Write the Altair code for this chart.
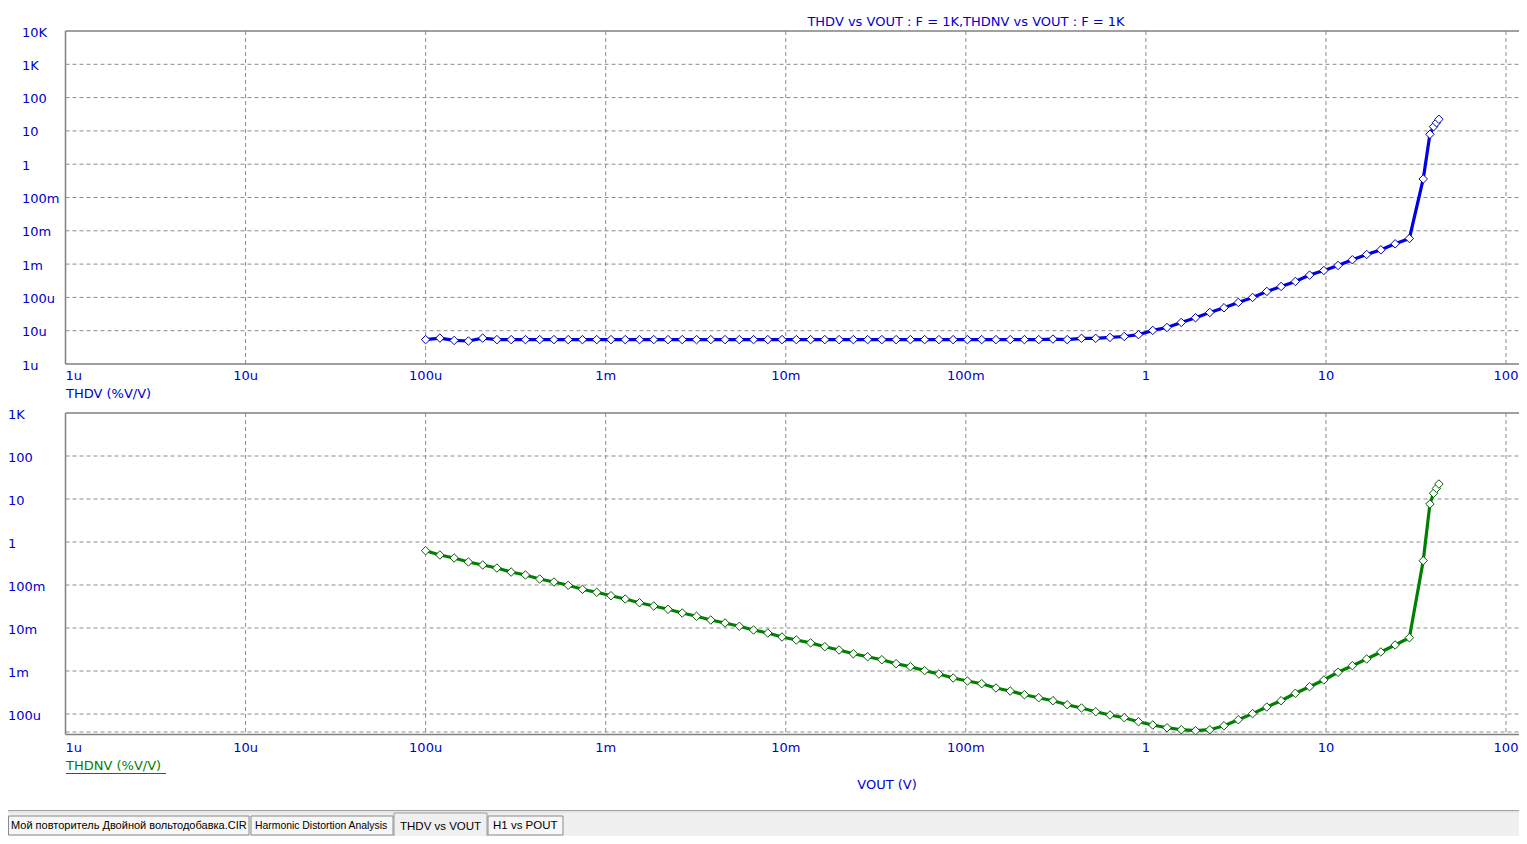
import altair as alt
import pandas as pd

# ---------------- data ----------------
vout = [1.000e-4, 1.200e-4, 1.440e-4, 1.728e-4, 2.074e-4, 2.488e-4, 2.986e-4, 3.583e-4,
        4.300e-4, 5.160e-4, 6.192e-4, 7.430e-4, 8.916e-4, 1.070e-3, 1.284e-3, 1.541e-3,
        1.849e-3, 2.219e-3, 2.662e-3, 3.195e-3, 3.834e-3, 4.600e-3, 5.521e-3, 6.625e-3,
        7.950e-3, 9.540e-3, 1.145e-2, 1.374e-2, 1.648e-2, 1.978e-2, 2.374e-2, 2.849e-2,
        3.418e-2, 4.102e-2, 4.922e-2, 5.907e-2, 7.088e-2, 8.506e-2, 0.1021, 0.1225,
        0.1470, 0.1764, 0.2116, 0.2540, 0.3048, 0.3657, 0.4389, 0.5266, 0.6320, 0.7584,
        0.9100, 1.092, 1.310, 1.573, 1.887, 2.264, 2.717, 3.261, 3.913, 4.696,
        5.635, 6.762, 8.114, 9.737, 11.68, 14.02, 16.83, 20.19, 24.23, 29.07,
        34.7, 37.8, 39.6, 41.1, 42.4]

thdv = [5.4e-6, 6.0e-6, 5.1e-6, 4.9e-6, 6.0e-6, 5.4e-6, 5.4e-6, 5.4e-6,
        5.4e-6, 5.4e-6, 5.4e-6, 5.4e-6, 5.4e-6, 5.4e-6, 5.4e-6, 5.4e-6,
        5.4e-6, 5.4e-6, 5.4e-6, 5.4e-6, 5.4e-6, 5.4e-6, 5.4e-6, 5.4e-6,
        5.4e-6, 5.4e-6, 5.4e-6, 5.4e-6, 5.4e-6, 5.4e-6, 5.4e-6, 5.4e-6,
        5.4e-6, 5.4e-6, 5.4e-6, 5.4e-6, 5.4e-6, 5.4e-6, 5.4e-6, 5.4e-6,
        5.4e-6, 5.4e-6, 5.4e-6, 5.4e-6, 5.6e-6, 5.4e-6, 5.9e-6, 5.9e-6, 6.3e-6, 6.7e-6,
        7.6e-6, 1.02e-5, 1.25e-5, 1.77e-5, 2.45e-5, 3.53e-5, 4.89e-5, 7.05e-5, 9.95e-5, 1.51e-4,
        2.13e-4, 3.01e-4, 4.68e-4, 6.43e-4, 9.08e-4, 1.35e-3, 1.94e-3, 2.69e-3, 4.07e-3, 5.9e-3,
        0.36, 7.9, 13.4, 17.6, 22.3]

thdnv = [0.628, 0.499, 0.425, 0.343, 0.292, 0.248, 0.200, 0.171, 0.138, 0.1175,
         0.0984, 0.0794, 0.0676, 0.0564, 0.0472, 0.0387, 0.0325, 0.0272, 0.0223, 0.0187,
         0.0153, 0.0131, 0.01096, 0.00898, 0.00765, 0.00618, 0.00526, 0.00450, 0.00367, 0.00308,
         0.00252, 0.00215, 0.00183, 0.00148, 0.00126, 0.00102, 8.51e-4, 6.87e-4, 5.85e-4, 5.07e-4,
         4.03e-4, 3.43e-4, 2.81e-4, 2.39e-4, 2.04e-4, 1.64e-4, 1.38e-4, 1.13e-4, 9.48e-5, 8.20e-5,
         6.62e-5, 5.55e-5, 4.80e-5, 4.31e-5, 4.09e-5, 4.31e-5, 5.35e-5, 7.37e-5, 1.02e-4, 1.455e-4,
         2.04e-4, 3.03e-4, 4.32e-4, 6.18e-4, 9.33e-4, 1.33e-3, 1.90e-3, 2.77e-3, 4.03e-3, 5.95e-3,
         0.367, 7.65, 13.6, 17.7, 22.3]

x_ticks = [1e-6, 1e-5, 1e-4, 1e-3, 1e-2, 1e-1, 1, 10, 100]
x_labels = ["1u", "10u", "100u", "1m", "10m", "100m", "1", "10", "100"]
y1_ticks = [1e4, 1e3, 100, 10, 1, 0.1, 0.01, 1e-3, 1e-4, 1e-5, 1e-6]
y1_labels = ["10K", "1K", "100", "10", "1", "100m", "10m", "1m", "100u", "10u", "1u"]
y2_ticks = [1e3, 100, 10, 1, 0.1, 0.01, 1e-3, 1e-4]
y2_labels = ["1K", "100", "10", "1", "100m", "10m", "1m", "100u"]

title_text = "THDV vs VOUT : F = 1K,THDNV vs VOUT : F = 1K"
y1_title = "THDV (%V/V)"
y2_title = "THDNV (%V/V)"
x_title = "VOUT (V)"
tab_names = ["Мой повторитель Двойной вольтодобавка.CIR", "Harmonic Distortion Analysis",
             "THDV vs VOUT", "H1 vs POUT"]

# ---------------- layout / style ----------------
OFF = 8
W, H = 1511, 828
BLUE_TXT = "#0000cc"
BLUE = "#0000e6"
GREEN = "#008000"
GRID = "#8c8c8c"
FRAME = "#808080"
FONT = "DejaVu Sans"


def px(p):
    return p - OFF


XS = alt.Scale(type="log", domain=[1e-6, 100], range=[px(65.5), px(1506)], clamp=False)
Y1 = alt.Scale(type="log", domain=[1e-6, 1e4], range=[px(364), px(31)], clamp=False)
Y2 = alt.Scale(type="log", domain=[1e-4, 1e3], range=[px(714), px(413)], clamp=False)

series = pd.DataFrame({"vout": vout, "thdv": thdv, "thdnv": thdnv})
xt = pd.DataFrame({"v": x_ticks, "label": x_labels})
y1t = pd.DataFrame({"v": y1_ticks, "label": y1_labels})
y2t = pd.DataFrame({"v": y2_ticks, "label": y2_labels})
one = pd.DataFrame({"k": [0]})

X = alt.X("v:Q", scale=XS, axis=None)
layers = []


def box(x1, x2, y1, y2, fill, stroke=None, sw=1.0):
    kw = dict(fill=fill)
    if stroke:
        kw.update(stroke=stroke, strokeWidth=sw)
    return alt.Chart(one).mark_rect(**kw).encode(
        x=alt.value(px(x1)), x2=alt.value(px(x2)), y=alt.value(px(y1)), y2=alt.value(px(y2)))


def hline(x1, x2, y, color, sw=1.0, dash=None):
    kw = dict(color=color, strokeWidth=sw)
    if dash:
        kw.update(strokeDash=dash)
    return alt.Chart(one).mark_rule(**kw).encode(
        x=alt.value(px(x1)), x2=alt.value(px(x2)), y=alt.value(px(y)))


def vline(x, y1, y2, color, sw=1.0):
    return alt.Chart(one).mark_rule(color=color, strokeWidth=sw).encode(
        x=alt.value(px(x)), y=alt.value(px(y1)), y2=alt.value(px(y2)))


def txt(s, x, y, size=13, color=BLUE_TXT, align="left", font=FONT):
    return alt.Chart(one).mark_text(text=s, align=align, baseline="middle", fontSize=size,
                                    color=color, font=font).encode(
        x=alt.value(px(x)), y=alt.value(px(y)))


RIGHT = OFF + W

# panel geometry (page coordinates)
P1_T, P1_B = 31, 364
P2_T, P2_B = 413, 734.5
LEFT = 65.5

# ---- vertical grid lines ----
for (t, b) in [(P1_T, P1_B), (P2_T, P2_B)]:
    layers.append(alt.Chart(xt.iloc[1:]).mark_rule(color=GRID, strokeWidth=1, strokeDash=[4, 3]).encode(
        x=X, y=alt.value(px(t)), y2=alt.value(px(b))))
# ---- horizontal grid lines ----
layers.append(alt.Chart(y1t.iloc[1:-1]).mark_rule(color=GRID, strokeWidth=1, strokeDash=[4, 3]).encode(
    y=alt.Y("v:Q", scale=Y1, axis=None), x=alt.value(px(LEFT)), x2=alt.value(W)))
layers.append(alt.Chart(y2t.iloc[1:]).mark_rule(color=GRID, strokeWidth=1, strokeDash=[4, 3]).encode(
    y=alt.Y("v:Q", scale=Y2, axis=None), x=alt.value(px(LEFT)), x2=alt.value(W)))
layers.append(hline(LEFT, RIGHT, P2_B - 2.5, GRID, 1, [4, 3]))

# ---- frames ----
for (t, b) in [(P1_T, P1_B), (P2_T, P2_B)]:
    layers.append(hline(LEFT, RIGHT, t, FRAME, 1.5))
    layers.append(hline(LEFT, RIGHT, b, FRAME, 1.5))
    layers.append(vline(LEFT, t, b, FRAME, 1.5))

# ---- tick labels ----
for ylab in [376, 748]:
    layers.append(alt.Chart(xt.iloc[:1]).mark_text(align="left", baseline="middle", fontSize=13,
                                                  font=FONT, color=BLUE_TXT).encode(
        x=X, y=alt.value(px(ylab)), text="label:N"))
    layers.append(alt.Chart(xt.iloc[1:]).mark_text(align="center", baseline="middle", fontSize=13,
                                                  font=FONT, color=BLUE_TXT).encode(
        x=X, y=alt.value(px(ylab)), text="label:N"))
layers.append(alt.Chart(y1t).mark_text(align="left", baseline="middle", fontSize=13, font=FONT,
                                       color=BLUE_TXT, dy=1.5).encode(
    y=alt.Y("v:Q", scale=Y1, axis=None), x=alt.value(px(22)), text="label:N"))
layers.append(alt.Chart(y2t).mark_text(align="left", baseline="middle", fontSize=13, font=FONT,
                                       color=BLUE_TXT, dy=1.5).encode(
    y=alt.Y("v:Q", scale=Y2, axis=None), x=alt.value(px(8)), text="label:N"))

# ---- titles ----
layers.append(txt(title_text, 966, 21.5, align="center"))
layers.append(txt(y1_title, 66, 394))
layers.append(txt(y2_title, 66, 766, color=GREEN))
layers.append(hline(66, 166, 773.5, GREEN, 1))
layers.append(txt(x_title, 887, 785, align="center"))

# ---- series ----
XV = alt.X("vout:Q", scale=XS, axis=None)
layers.append(alt.Chart(series).mark_line(color=BLUE, strokeWidth=3.2).encode(
    x=XV, y=alt.Y("thdv:Q", scale=Y1, axis=None)))
layers.append(alt.Chart(series).mark_point(shape="diamond", filled=True, fill="white", stroke="#0000b0",
                                           strokeWidth=1, size=72, opacity=1).encode(
    x=XV, y=alt.Y("thdv:Q", scale=Y1, axis=None)))
layers.append(alt.Chart(series).mark_line(color=GREEN, strokeWidth=3.2).encode(
    x=XV, y=alt.Y("thdnv:Q", scale=Y2, axis=None)))
layers.append(alt.Chart(series).mark_point(shape="diamond", filled=True, fill="white", stroke="#006000",
                                           strokeWidth=1, size=72, opacity=1).encode(
    x=XV, y=alt.Y("thdnv:Q", scale=Y2, axis=None)))

# ---- tab bar (window chrome) ----
layers.append(box(OFF, RIGHT, 811, OFF + H, "#f0f0f0"))
layers.append(hline(OFF, RIGHT, 810.5, "#a0a0a0", 1))
layers.append(hline(OFF, RIGHT, 812, "#dcdcdc", 1))
layers.append(box(8.5, 249, 816, 835, "#f7f7f7", "#8a8a8a", 1))
layers.append(box(251, 393, 816, 835, "#f7f7f7", "#8a8a8a", 1))
layers.append(box(488, 563, 816, 835, "#f7f7f7", "#8a8a8a", 1))
layers.append(box(394, 487, 813, 840, "#f0f0f0", "#9a9a9a", 1))
TFONT = "Liberation Sans"
layers.append(txt(tab_names[0], 11, 825.5, size=11.0, color="#000000", font=TFONT))
layers.append(txt(tab_names[1], 255, 825.5, size=10.4, color="#000000", font=TFONT))
layers.append(txt(tab_names[2], 400, 827, size=11.5, color="#000000", font=TFONT))
layers.append(txt(tab_names[3], 493, 825.5, size=11.5, color="#000000", font=TFONT))

chart = alt.layer(*layers).resolve_scale(y="independent", x="shared").properties(
    width=W, height=H, autosize=alt.AutoSizeParams(type="none"), padding=0,
    background="white"
).configure_view(stroke=None)

chart.save("out.html", embed_options={"renderer": "svg", "actions": False})
